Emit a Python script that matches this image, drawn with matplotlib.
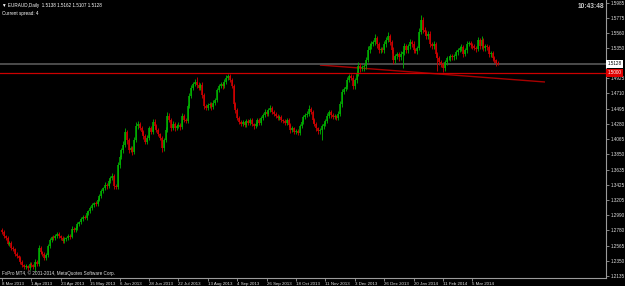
import matplotlib
matplotlib.use("Agg")
import matplotlib.pyplot as plt
import matplotlib.transforms as mtransforms

# ---------------- data (EURAUD daily) ----------------
first_open = 1.2784
closes = [
    1.2756, 1.2699, 1.2671, 1.2587, 1.2601, 1.2530, 1.2516, 1.2446, 1.2417, 1.2389,
    1.2333, 1.2291, 1.2262, 1.2276, 1.2248, 1.2305, 1.2291, 1.2262, 1.2333, 1.2305,
    1.2530, 1.2474, 1.2446, 1.2389, 1.2432, 1.2558, 1.2643, 1.2685, 1.2671, 1.2699,
    1.2728, 1.2699, 1.2671, 1.2629, 1.2657, 1.2671, 1.2699, 1.2685, 1.2798, 1.2784,
    1.2812, 1.2869, 1.2897, 1.2939, 1.2967, 1.2953, 1.3024, 1.3052, 1.3094, 1.3137,
    1.3165, 1.3151, 1.3207, 1.3263, 1.3334, 1.3376, 1.3419, 1.3404, 1.3475, 1.3517,
    1.3545, 1.3404, 1.3390, 1.3701, 1.3813, 1.3912, 1.3983, 1.4166, 1.4053, 1.3912,
    1.3940, 1.3884, 1.4053, 1.4250, 1.4279, 1.4222, 1.4166, 1.4109, 1.4025, 1.4081,
    1.4222, 1.4166, 1.4307, 1.4250, 1.4194, 1.4138, 1.4081, 1.3940, 1.4053, 1.4194,
    1.4391, 1.4335, 1.4222, 1.4279, 1.4222, 1.4250, 1.4265, 1.4236, 1.4391, 1.4335,
    1.4321, 1.4532, 1.4673, 1.4786, 1.4843, 1.4871, 1.4829, 1.4786, 1.4829, 1.4687,
    1.4532, 1.4504, 1.4546, 1.4561, 1.4518, 1.4575, 1.4617, 1.4758, 1.4814, 1.4843,
    1.4814, 1.4871, 1.4927, 1.4955, 1.4899, 1.4814, 1.4561, 1.4476, 1.4363, 1.4307,
    1.4279, 1.4307, 1.4265, 1.4321, 1.4293, 1.4335, 1.4279, 1.4250, 1.4279, 1.4335,
    1.4293, 1.4363, 1.4405, 1.4448, 1.4420, 1.4476, 1.4504, 1.4448, 1.4420, 1.4391,
    1.4363, 1.4377, 1.4335, 1.4321, 1.4293, 1.4335, 1.4265, 1.4194, 1.4222, 1.4166,
    1.4180, 1.4152, 1.4250, 1.4307, 1.4377, 1.4405, 1.4420, 1.4490, 1.4448, 1.4335,
    1.4279, 1.4222, 1.4180, 1.4194, 1.4250, 1.4279, 1.4321, 1.4391, 1.4448, 1.4405,
    1.4377, 1.4391, 1.4363, 1.4420, 1.4561, 1.4730, 1.4772, 1.4800, 1.4899, 1.4955,
    1.4927, 1.4814, 1.4899, 1.4984, 1.5096, 1.5068, 1.5082, 1.5096, 1.5181, 1.5322,
    1.5378, 1.5407, 1.5435, 1.5491, 1.5407, 1.5322, 1.5336, 1.5322, 1.5407, 1.5463,
    1.5519, 1.5435, 1.5322, 1.5181, 1.5237, 1.5266, 1.5223, 1.5266, 1.5294, 1.5378,
    1.5322, 1.5378, 1.5435, 1.5407, 1.5322, 1.5308, 1.5350, 1.5576, 1.5745, 1.5604,
    1.5576, 1.5519, 1.5548, 1.5407, 1.5378, 1.5407, 1.5266, 1.5209, 1.5153, 1.5125,
    1.5068, 1.5153, 1.5209, 1.5209, 1.5237, 1.5223, 1.5237, 1.5294, 1.5322, 1.5350,
    1.5364, 1.5266, 1.5322, 1.5407, 1.5421, 1.5392, 1.5378, 1.5350, 1.5336, 1.5463,
    1.5378, 1.5463, 1.5350, 1.5378, 1.5364, 1.5266, 1.5280, 1.5209, 1.5181, 1.5138,
    1.5128,
]
wick_up_pips = [
    25, 30, 20, 35, 28, 22, 30, 18, 25, 20,
    30, 22, 18, 25, 20, 30, 25, 20, 35, 22,
    40, 25, 20, 30, 22, 35, 28, 20, 25, 30,
    22, 28, 20, 25, 30, 18, 25, 22, 40, 30,
    25, 30, 20, 28, 22, 35, 25, 20, 30, 25,
    20, 28, 22, 30, 25, 20, 35, 25, 30, 28,
    45, 30, 25, 40, 35, 30, 50, 60, 30, 25,
    35, 30, 45, 60, 40, 30, 35, 25, 30, 40,
    35, 30, 45, 35, 25, 30, 20, 35, 30, 40,
    50, 40, 30, 35, 25, 30, 40, 25, 45, 30,
    30, 35, 40, 45, 30, 35, 70, 40, 30, 35,
    25, 30, 35, 30, 25, 40, 30, 35, 30, 25,
    30, 35, 40, 30, 25, 30, 35, 30, 25, 30,
    25, 30, 20, 35, 25, 30, 25, 20, 30, 35,
    30, 25, 35, 40, 30, 35, 40, 25, 30, 25,
    30, 25, 30, 20, 25, 35, 25, 30, 25, 20,
    25, 30, 35, 30, 25, 30, 45, 50, 30, 25,
    30, 25, 20, 25, 30, 25, 35, 40, 30, 25,
    25, 30, 20, 35, 40, 45, 35, 30, 40, 30,
    35, 40, 30, 45, 50, 40, 35, 30, 45, 50,
    40, 45, 35, 55, 30, 25, 35, 30, 40, 45,
    57, 35, 30, 40, 35, 30, 25, 35, 30, 40,
    30, 35, 45, 30, 40, 25, 35, 60, 70, 45,
    40, 30, 35, 40, 30, 35, 30, 25, 30, 35,
    30, 35, 25, 30, 35, 30, 25, 35, 30, 35,
    40, 30, 35, 45, 30, 25, 30, 35, 25, 45,
    30, 50, 35, 30, 35, 25, 30, 25, 30, 20,
    24,
]
wick_dn_pips = [
    30, 25, 35, 20, 28, 30, 22, 25, 30, 28,
    25, 30, 28, 22, 35, 25, 30, 28, 56, 30,
    30, 35, 25, 28, 30, 22, 25, 30, 28, 25,
    30, 25, 28, 35, 22, 30, 25, 28, 20, 30,
    28, 22, 30, 25, 35, 20, 28, 30, 22, 25,
    30, 25, 28, 20, 30, 25, 28, 35, 22, 30,
    30, 40, 35, 30, 40, 35, 45, 30, 50, 40,
    35, 40, 30, 35, 40, 30, 35, 45, 30, 35,
    30, 35, 25, 40, 30, 35, 30, 60, 40, 30,
    35, 30, 45, 30, 40, 35, 25, 40, 30, 35,
    30, 35, 30, 25, 35, 30, 40, 35, 30, 45,
    40, 35, 30, 35, 40, 30, 35, 30, 25, 30,
    35, 30, 25, 30, 35, 30, 45, 40, 35, 30,
    30, 35, 25, 30, 35, 25, 30, 35, 25, 30,
    35, 30, 25, 30, 35, 30, 25, 30, 35, 30,
    25, 30, 35, 25, 30, 35, 30, 40, 30, 35,
    30, 35, 30, 25, 30, 35, 30, 25, 30, 40,
    35, 40, 45, 40, 141, 35, 30, 35, 30, 35,
    30, 35, 25, 30, 35, 40, 30, 35, 30, 35,
    30, 45, 35, 40, 35, 60, 45, 50, 40, 35,
    40, 45, 35, 40, 50, 45, 40, 35, 45, 40,
    35, 40, 45, 50, 40, 45, 55, 40, 200, 45,
    40, 45, 35, 40, 45, 35, 40, 30, 35, 45,
    40, 35, 45, 40, 35, 40, 45, 180, 40, 45,
    56, 45, 40, 35, 45, 40, 35, 40, 45, 35,
    40, 45, 35, 40, 35, 45, 40, 35, 40, 35,
    40, 35, 45, 40, 35, 45, 40, 45, 40, 35,
    21,
]
date_labels = ['8 Mar 2013', '1 Apr 2013', '23 Apr 2013', '15 May 2013', '6 Jun 2013',
               '28 Jun 2013', '22 Jul 2013', '13 Aug 2013', '4 Sep 2013', '26 Sep 2013',
               '18 Oct 2013', '11 Nov 2013', '3 Dec 2013', '26 Dec 2013', '20 Jan 2014',
               '11 Feb 2014', '5 Mar 2014']
bars_per_label = 16
# (the 1.5140 grid label is hidden behind the bid box in the reference)
price_labels = ['1.5985', '1.5775', '1.5560', '1.5350', '1.4925', '1.4710',
                '1.4495', '1.4280', '1.4065', '1.3850', '1.3635', '1.3425', '1.3205',
                '1.2990', '1.2780', '1.2565', '1.2350', '1.2135']
bid_price = 1.5128
level_price = 1.5000
trend_bars = [173, 295.5]
trend_prices = [1.5110, 1.4871]
header = "\u25BC EURAUD,Daily  1.5138 1.5162 1.5107 1.5128"
spread_text = "Current spread: 4"
copyright_text = "FxPro MT4, \u00A9 2001-2014, MetaQuotes Software Corp."
clock_text = "10:43:48"

# ---------------- derived OHLC ----------------
opens = [first_open] + closes[:-1]
highs = [max(o, c) + u / 10000 for o, c, u in zip(opens, closes, wick_up_pips)]
lows = [min(o, c) - d / 10000 for o, c, d in zip(opens, closes, wick_dn_pips)]
idx = list(range(len(closes)))

W, H = 625, 286
fig = plt.figure(figsize=(W / 100, H / 100), dpi=100, facecolor='black')
ax = fig.add_axes([0, 8 / H, 606 / W, 278 / H], facecolor='black')
ax.set_xlim(-1.09, 328.7)
ax.set_ylim(1.2107, 1.6027)

fam = ['Liberation Sans', 'DejaVu Sans']
GREEN = '#00b400'
RED = '#d40000'

up = [c >= o for o, c in zip(opens, closes)]
cols = [GREEN if u else RED for u in up]
body_lo = [min(o, c) for o, c in zip(opens, closes)]
body_hi = [max(o, c) + (0.0004 if abs(o - c) < 0.0004 else 0) for o, c in zip(opens, closes)]

# lines
ax.plot(trend_bars, trend_prices, color='#a80000', lw=1.0, zorder=1, solid_capstyle='butt')
ax.axhline(bid_price, color='#4c4c4c', lw=1.4, zorder=1)
ax.axhline(level_price, color='#cc0000', lw=0.9, zorder=3)

ax.vlines(idx, lows, highs, colors=cols, lw=0.6, zorder=2)
ax.vlines(idx, body_lo, body_hi, colors=cols, lw=1.1, zorder=2)

# axes styling
for s in ['left', 'top']:
    ax.spines[s].set_visible(False)
for s in ['right', 'bottom']:
    ax.spines[s].set_color('#9a9a9a')
    ax.spines[s].set_linewidth(0.8)

ax.yaxis.tick_right()
ax.set_yticks([float(v) for v in price_labels])
ax.set_yticklabels(price_labels)
ax.set_xticks([i * bars_per_label for i in range(len(date_labels))])
ax.set_xticklabels(date_labels, ha='left')
ax.tick_params(axis='y', direction='out', length=2, width=0.6, color='#9a9a9a',
               labelsize=3.3, labelcolor='#e0e0e0', pad=1.2)
ax.tick_params(axis='x', direction='out', length=2, width=0.6, color='#9a9a9a',
               labelsize=3.2, labelcolor='#e0e0e0', pad=0.6)
for lab in ax.get_xticklabels() + ax.get_yticklabels():
    lab.set_family(fam)

# price boxes on the right axis
tr = mtransforms.blended_transform_factory(ax.transAxes, ax.transData)
ax.text(1.003, bid_price, f"{bid_price:.4f}", transform=tr, fontsize=3.3, family=fam,
        color='black', va='center', ha='left', zorder=10, clip_on=False,
        bbox=dict(boxstyle='square,pad=0.3', fc='white', ec='white', lw=0))
ax.text(1.003, level_price, f"{level_price:.4f}", transform=tr, fontsize=3.3, family=fam,
        color='white', va='center', ha='left', zorder=10, clip_on=False,
        bbox=dict(boxstyle='square,pad=0.3', fc='#e00000', ec='#e00000', lw=0))

# texts
fig.text(2 / W, 1 - 5 / H, header, fontsize=3.3, family=fam, color='white', va='center', ha='left')
fig.text(2 / W, 1 - 13 / H, spread_text, fontsize=3.3, family=fam, color='white', va='center', ha='left')
fig.text(2 / W, 1 - 273 / H, copyright_text, fontsize=3.3, family=fam, color='#e0e0e0', va='center', ha='left')
fig.text(604 / W, 1 - 7 / H, clock_text, fontsize=4.8, family=fam, color='#c8c8c8',
         va='center', ha='right', weight='bold')

fig.savefig('out.png', dpi=100, facecolor='black')
